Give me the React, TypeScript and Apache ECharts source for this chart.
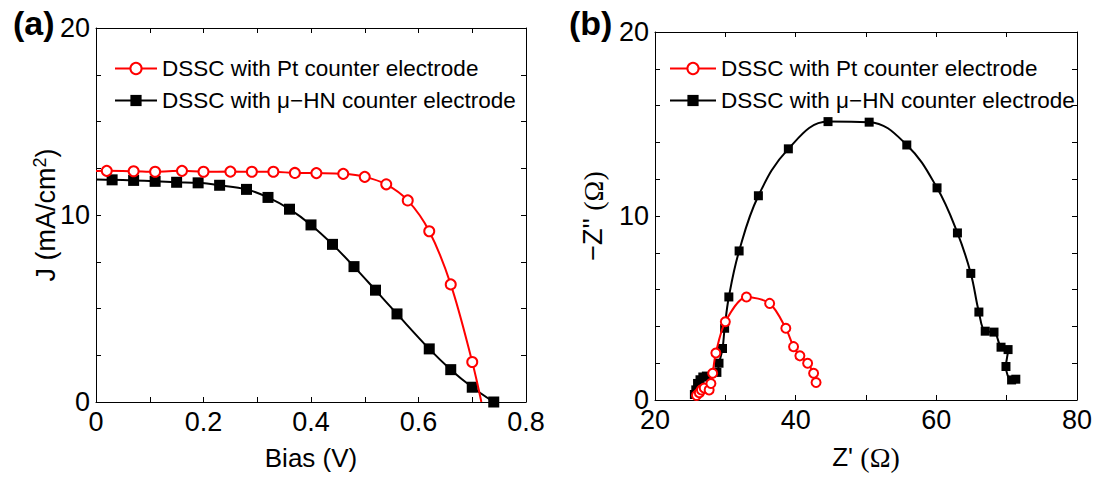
import React, { useEffect, useRef } from "react";
import * as echarts from "echarts";

// ---------- Data: (a) J-V curves ----------
const biasPt = [0.02, 0.07, 0.11, 0.16, 0.2, 0.25, 0.29, 0.33, 0.37, 0.41, 0.46, 0.5, 0.54, 0.58, 0.62, 0.66, 0.7];
const jPt = [12.36, 12.34, 12.31, 12.36, 12.31, 12.32, 12.31, 12.31, 12.25, 12.24, 12.2, 12.04, 11.64, 10.78, 9.13, 6.29, 2.14];
const ptCurveStart = [0, 12.35];
const ptCurveEnd = [0.717, 0];

const biasHN = [0.03, 0.07, 0.11, 0.15, 0.19, 0.23, 0.28, 0.32, 0.36, 0.4, 0.44, 0.48, 0.52, 0.56, 0.62, 0.66, 0.7, 0.74];
const jHN = [11.88, 11.85, 11.8, 11.75, 11.72, 11.59, 11.37, 10.94, 10.31, 9.47, 8.43, 7.24, 5.98, 4.71, 2.84, 1.73, 0.79, 0.0];
const hnCurveStart = [0, 11.9];

// ---------- Data: (b) Nyquist plots ----------
const zRePt = [25.9, 26.3, 26.6, 27.0, 27.7, 27.95, 28.2, 28.65, 30.0, 33.0, 36.3, 38.6, 39.7, 40.6, 41.7, 42.55, 42.9];
const zImPt = [0.25, 0.4, 0.55, 0.65, 0.55, 0.9, 1.45, 2.55, 4.25, 5.6, 5.25, 3.9, 2.9, 2.4, 2.0, 1.45, 0.95];

const zReHN = [25.6, 25.8, 26.05, 26.4, 26.8, 27.3, 28.8, 29.1, 29.6, 29.9, 30.5, 31.96, 34.7, 38.96, 44.6, 50.45, 55.8, 60.1, 63.0, 64.9, 66.05, 66.95, 68.2, 69.2, 70.2, 69.9, 70.7, 71.3];
const zImHN = [0.3, 0.55, 0.9, 1.1, 1.25, 1.3, 1.5, 2.0, 2.8, 3.9, 5.6, 8.1, 11.1, 13.65, 15.13, 15.1, 13.86, 11.53, 9.08, 6.88, 4.78, 3.74, 3.69, 2.87, 2.74, 1.82, 1.09, 1.13];

const namePt = "DSSC with Pt counter electrode";
const nameHN = "DSSC with \u03bc\u2212HN counter electrode";

const SANS = "'Liberation Sans', Arial, Helvetica, sans-serif";
const SERIF = "'Liberation Serif', 'Times New Roman', serif";
const RED = "#ff0000";
const BLACK = "#000000";

const zip = (xs: number[], ys: number[]) => xs.map((x, i) => [x, ys[i]]);

const nameRich = {
  sup: { fontFamily: SANS, fontSize: 18, color: BLACK, verticalAlign: "top", padding: [0, 0, 12, 0] },
  s: { fontFamily: SERIF, fontSize: 28, color: BLACK },
};

function valueAxis(opts: any) {
  const { gridIndex, position, min, max, interval, minorSplit, showLabel, name, nameGap } = opts;
  return {
    type: "value",
    gridIndex,
    position,
    min,
    max,
    interval,
    name: name || "",
    nameLocation: "middle",
    nameGap: nameGap || 0,
    nameTextStyle: { fontFamily: SANS, fontSize: 26, color: BLACK, rich: nameRich },
    axisLine: { show: true, onZero: false, lineStyle: { color: BLACK, width: 1 } },
    axisTick: { show: true, inside: true, length: 5, lineStyle: { color: BLACK, width: 1 } },
    minorTick: { show: true, splitNumber: minorSplit, length: 5, lineStyle: { color: BLACK, width: 1 } },
    splitLine: { show: false },
    minorSplitLine: { show: false },
    axisLabel: {
      show: showLabel,
      fontFamily: SANS,
      fontSize: 27,
      color: BLACK,
      margin: 6,
      showMinLabel: true,
      showMaxLabel: true,
    },
  };
}

export default function App() {
  const ref = useRef<HTMLDivElement>(null);

  useEffect(() => {
    if (!ref.current) return;
    const chart = echarts.init(ref.current, null, { renderer: "svg" });

    const ptLeft = [
      { value: ptCurveStart, symbol: "none" },
      ...zip(biasPt, jPt),
      { value: ptCurveEnd, symbol: "none" },
    ];
    const hnLeft = [{ value: hnCurveStart, symbol: "none" }, ...zip(biasHN, jHN)];

    const option: any = {
      animation: false,
      backgroundColor: "#ffffff",
      title: [
        { text: "(a)", left: 8, top: 1, textStyle: { fontFamily: SANS, fontSize: 34, fontWeight: "bold", color: BLACK } },
        { text: "(b)", left: 564, top: 1, textStyle: { fontFamily: SANS, fontSize: 34, fontWeight: "bold", color: BLACK } },
      ],
      graphic: [
        {
          type: "text",
          x: 46,
          y: 215,
          rotation: Math.PI / 2,
          style: {
            text: "J (mA/cm{sup|2})",
            fontFamily: SANS,
            fontSize: 27,
            fill: BLACK,
            align: "center",
            verticalAlign: "middle",
            rich: nameRich,
          },
        },
        {
          type: "text",
          x: 593,
          y: 216,
          rotation: Math.PI / 2,
          style: {
            text: "\u2212Z'' {s|(\u03a9)}",
            fontFamily: SANS,
            fontSize: 27,
            fill: BLACK,
            align: "center",
            verticalAlign: "middle",
            rich: nameRich,
          },
        },
      ],
      legend: [
        {
          data: [namePt, nameHN],
          orient: "vertical",
          left: 109,
          top: 52,
          itemWidth: 42,
          itemHeight: 14,
          itemGap: 9,
          selectedMode: false,
          textStyle: { fontFamily: SANS, fontSize: 22.5, color: BLACK },
        },
        {
          data: [namePt, nameHN],
          orient: "vertical",
          left: 664,
          top: 52,
          itemWidth: 46,
          itemHeight: 14,
          itemGap: 9,
          selectedMode: false,
          textStyle: { fontFamily: SANS, fontSize: 22.5, color: BLACK },
        },
      ],
      grid: [
        { left: 96, top: 28, width: 430, height: 374, containLabel: false },
        { left: 655, top: 32, width: 422, height: 368, containLabel: false },
      ],
      xAxis: [
        valueAxis({ gridIndex: 0, position: "bottom", min: 0, max: 0.8, interval: 0.2, minorSplit: 2, showLabel: true, name: "Bias (V)", nameGap: 43 }),
        valueAxis({ gridIndex: 0, position: "top", min: 0, max: 0.8, interval: 0.2, minorSplit: 2, showLabel: false }),
        valueAxis({ gridIndex: 1, position: "bottom", min: 20, max: 80, interval: 20, minorSplit: 2, showLabel: true, name: "Z' {s|(\u03a9)}", nameGap: 43 }),
        valueAxis({ gridIndex: 1, position: "top", min: 20, max: 80, interval: 20, minorSplit: 2, showLabel: false }),
      ],
      yAxis: [
        valueAxis({ gridIndex: 0, position: "left", min: 0, max: 20, interval: 10, minorSplit: 4, showLabel: true }),
        valueAxis({ gridIndex: 0, position: "right", min: 0, max: 20, interval: 10, minorSplit: 4, showLabel: false }),
        valueAxis({ gridIndex: 1, position: "left", min: 0, max: 20, interval: 10, minorSplit: 5, showLabel: true }),
        valueAxis({ gridIndex: 1, position: "right", min: 0, max: 20, interval: 10, minorSplit: 5, showLabel: false }),
      ],
      series: [
        {
          name: namePt,
          type: "line",
          xAxisIndex: 0,
          yAxisIndex: 0,
          data: ptLeft,
          smooth: 0.35,
          symbol: "circle",
          symbolSize: 10,
          lineStyle: { color: RED, width: 2 },
          itemStyle: { color: "#ffffff", borderColor: RED, borderWidth: 2 },
          z: 3,
        },
        {
          name: nameHN,
          type: "line",
          xAxisIndex: 0,
          yAxisIndex: 0,
          data: hnLeft,
          smooth: 0.35,
          symbol: "rect",
          symbolSize: 11,
          lineStyle: { color: BLACK, width: 2 },
          itemStyle: { color: BLACK, borderColor: BLACK, borderWidth: 0 },
          z: 2,
        },
        {
          name: nameHN,
          type: "line",
          xAxisIndex: 2,
          yAxisIndex: 2,
          data: zip(zReHN, zImHN),
          smooth: 0.4,
          symbol: "rect",
          symbolSize: 9,
          lineStyle: { color: BLACK, width: 2 },
          itemStyle: { color: BLACK, borderColor: BLACK, borderWidth: 0 },
          z: 2,
        },
        {
          name: namePt,
          type: "line",
          xAxisIndex: 2,
          yAxisIndex: 2,
          data: zip(zRePt, zImPt),
          smooth: 0.3,
          symbol: "circle",
          symbolSize: 9,
          lineStyle: { color: RED, width: 2 },
          itemStyle: { color: "#ffffff", borderColor: RED, borderWidth: 2 },
          z: 3,
        },
      ],
    };

    chart.setOption(option);
    return () => chart.dispose();
  }, []);

  return (
    <div
      ref={ref}
      style={{ position: "fixed", left: 0, top: 0, width: 1101, height: 478, background: "#ffffff" }}
    />
  );
}
